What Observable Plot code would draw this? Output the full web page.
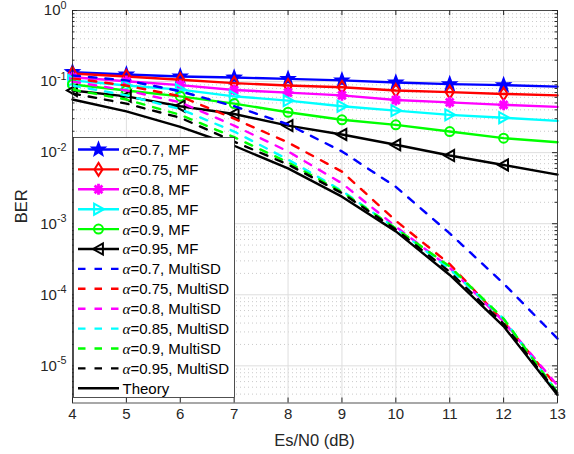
<!DOCTYPE html>
<html><head><meta charset="utf-8">
<script src="https://cdn.jsdelivr.net/npm/d3@7"></script>
<script src="https://cdn.jsdelivr.net/npm/@observablehq/plot@0.6"></script>
<style>body{margin:0;background:#fff} svg{font-family:"Liberation Sans",Arial,sans-serif}</style>
</head><body><div id="chart"></div>
<script>
// ---- data ----
const snr = [4, 5, 6, 7, 8, 9, 10, 11, 12, 13];
const mf070 = [0.136, 0.126, 0.118, 0.114, 0.109, 0.104, 0.097, 0.092, 0.089, 0.085];
const mf075 = [0.130, 0.118, 0.106, 0.095, 0.088, 0.083, 0.075, 0.071, 0.067, 0.064];
const mf080 = [0.115, 0.101, 0.089, 0.076, 0.070, 0.064, 0.055, 0.051, 0.047, 0.044];
const mf085 = [0.104, 0.088, 0.077, 0.062, 0.054, 0.045, 0.039, 0.034, 0.031, 0.028];
const mf090 = [0.091, 0.075, 0.062, 0.049, 0.037, 0.029, 0.0246, 0.0198, 0.016, 0.014];
const mf095 = [0.075, 0.062, 0.045, 0.035, 0.024, 0.018, 0.0129, 0.0091, 0.0067, 0.0049];
const sd070 = [0.122, 0.104, 0.073, 0.045, 0.025, 0.0104, 0.0033, 0.00073, 0.000144, 0.0000242];
const sd075 = [0.111, 0.088, 0.062, 0.030, 0.0139, 0.0054, 0.0011, 0.00027, 0.000042, 0.0000050];
const sd080 = [0.100, 0.075, 0.051, 0.024, 0.0104, 0.0037, 0.00091, 0.00024, 0.000042, 0.0000053];
const sd085 = [0.088, 0.064, 0.041, 0.0198, 0.0080, 0.0029, 0.00086, 0.00023, 0.000046, 0.0000042];
const sd090 = [0.077, 0.056, 0.034, 0.0165, 0.0073, 0.0028, 0.00086, 0.00025, 0.000046, 0.0000042];
const sd095 = [0.068, 0.049, 0.031, 0.0143, 0.0068, 0.0027, 0.00083, 0.00021, 0.000039, 0.0000041];
const theory = [0.056, 0.038, 0.023, 0.0125, 0.0060, 0.0024, 0.00078, 0.00019, 0.000036, 0.0000039];
const markerSnr = [4, 5, 6, 7, 8, 9, 10, 11, 12];
const xTicks = [4, 5, 6, 7, 8, 9, 10, 11, 12, 13];
const yTicks = [1e-5, 1e-4, 1e-3, 1e-2, 1e-1, 1];
const alphas = ["0.7", "0.75", "0.8", "0.85", "0.9", "0.95"];
const colors = ["#0000ff", "#ff0000", "#ff00ff", "#00ffff", "#00ff00", "#000000"];

// ---- custom marker symbols (r = nominal radius in px) ----
const rad = s => Math.sqrt(s / Math.PI);
const pentagram = {draw(c, s){const r = rad(s), ri = r*0.42; for(let k=0;k<10;k++){const a=-Math.PI/2+k*Math.PI/5, rr=k%2?ri:r; const x=rr*Math.cos(a), y=rr*Math.sin(a); k?c.lineTo(x,y):c.moveTo(x,y);} c.closePath();}};
const diamond = {draw(c, s){const r = rad(s); c.moveTo(0,-r); c.lineTo(r*0.62,0); c.lineTo(0,r); c.lineTo(-r*0.62,0); c.closePath();}};
const asterisk = {draw(c, s){const r = rad(s); for(let k=0;k<4;k++){const a=k*Math.PI/4; c.moveTo(r*Math.cos(a), r*Math.sin(a)); c.lineTo(-r*Math.cos(a), -r*Math.sin(a));}}};
const triRight = {draw(c, s){const r = rad(s); c.moveTo(r,0); c.lineTo(-r*0.8,-r); c.lineTo(-r*0.8,r); c.closePath();}};
const triLeft = {draw(c, s){const r = rad(s); c.moveTo(-r,0); c.lineTo(r*0.8,-r); c.lineTo(r*0.8,r); c.closePath();}};
const circle = {draw(c, s){const r = rad(s); c.moveTo(r,0); c.arc(0,0,r,0,2*Math.PI);}};

const mfVals = [mf070, mf075, mf080, mf085, mf090, mf095];
const sdVals = [sd070, sd075, sd080, sd085, sd090, sd095];
const mfSym = [
  {symbol: pentagram, r: 6.5, fill: "#0000ff", sw: 2},
  {symbol: diamond, r: 6.5, fill: "none", sw: 2},
  {symbol: asterisk, r: 5.5, fill: "none", sw: 2.8},
  {symbol: triRight, r: 5.5, fill: "none", sw: 2},
  {symbol: circle, r: 4.5, fill: "none", sw: 2},
  {symbol: triLeft, r: 5.5, fill: "none", sw: 2}
];
const rows = vals => snr.map((x, i) => ({x, y: vals[i]}));
const markerRows = vals => markerSnr.map(x => ({x, y: vals[snr.indexOf(x)]}));

const W = 574, H = 454, mL = 72, mR = 17, mT = 10, mB = 51.5;
const pW = W - mL - mR, pH = H - mT - mB;
const minorY = [];
for (let e = -6; e < 0; e++) for (let k = 2; k <= 9; k++) { const v = k * Math.pow(10, e); if (v > 3.05e-6 && v < 1) minorY.push(v); }

const dash = "7.5,9";
const LW = 2.4;
const marks = [
  Plot.ruleY(minorY, {stroke: "#c4c4c4", strokeDasharray: "1,3", strokeWidth: 0.9}),
  Plot.ruleY(yTicks, {stroke: "#dedede"}),
  Plot.ruleX(xTicks, {stroke: "#dedede"}),
  Plot.ruleX(xTicks, {stroke: "#262626", insetTop: pH - 5}),
  Plot.ruleX(xTicks, {stroke: "#262626", insetBottom: pH - 5}),
  Plot.ruleY(yTicks, {stroke: "#262626", insetRight: pW - 5}),
  Plot.ruleY(yTicks, {stroke: "#262626", insetLeft: pW - 5}),
  Plot.ruleY(minorY, {stroke: "#262626", insetRight: pW - 2.5}),
  Plot.ruleY(minorY, {stroke: "#262626", insetLeft: pW - 2.5})
];
mfVals.forEach((v, i) => {
  marks.push(Plot.line(rows(v), {x: "x", y: "y", stroke: colors[i], strokeWidth: LW}));
  marks.push(Plot.dot(markerRows(v), {x: "x", y: "y", stroke: colors[i], strokeWidth: mfSym[i].sw, symbol: mfSym[i].symbol, r: mfSym[i].r, fill: mfSym[i].fill}));
});
sdVals.forEach((v, i) => {
  marks.push(Plot.line(rows(v), {x: "x", y: "y", stroke: colors[i], strokeWidth: LW, strokeDasharray: dash}));
});
marks.push(Plot.line(rows(theory), {x: "x", y: "y", stroke: "#000000", strokeWidth: LW}));
marks.push(Plot.frame({stroke: "#262626", strokeWidth: 0.8}));
marks.push(Plot.axisX({ticks: xTicks, tickSize: 0, tickPadding: 5, tickFormat: d => String(d), fontSize: 15, label: null, fill: "#262626"}));
marks.push(Plot.axisY({ticks: yTicks, tickSize: 0, tickPadding: 6, tickFormat: d => "10^" + Math.round(Math.log10(d)), fontSize: 15, label: null, fill: "#262626"}));

const svg = Plot.plot({
  width: W, height: H,
  marginLeft: mL, marginRight: mR, marginTop: mT, marginBottom: mB,
  style: {fontFamily: "'Liberation Sans', Arial, sans-serif", background: "#fff"},
  x: {domain: [4, 13]},
  y: {type: "log", domain: [3e-6, 1]},
  marks
});
document.getElementById("chart").appendChild(svg);

// superscript exponents on the y tick labels
d3.select(svg).selectAll('g[aria-label="y-axis tick label"] text').each(function () {
  const m = this.textContent.match(/^10\^(.*)$/);
  if (!m) return;
  this.textContent = "";
  const t = d3.select(this);
  t.append("tspan").text("10");
  t.append("tspan").attr("dy", "-0.6em").attr("font-size", "0.72em").text(m[1]);
});

const root = d3.select(svg);
// axis titles
root.append("text").attr("x", mL + pW / 2).attr("y", 446).attr("text-anchor", "middle")
  .attr("font-size", 16.5).attr("fill", "#262626").text("Es/N0 (dB)");
root.append("text").attr("transform", `translate(27,${mT + pH / 2}) rotate(-90)`).attr("text-anchor", "middle")
  .attr("font-size", 16.5).attr("fill", "#262626").text("BER");

// legend
const entries = [];
alphas.forEach((a, i) => entries.push({a, kind: "MF", color: colors[i], sym: mfSym[i], dash: null}));
alphas.forEach((a, i) => entries.push({a, kind: "MultiSD", color: colors[i], sym: null, dash}));
entries.push({a: null, kind: "Theory", color: "#000000", sym: null, dash: null});
const lg = root.append("g").attr("text-anchor", "start");
lg.append("rect").attr("x", 73.5).attr("y", 137.5).attr("width", 161).attr("height", 260)
  .attr("fill", "#fff").attr("stroke", "#262626").attr("stroke-width", 0.8);
entries.forEach((e, i) => {
  const cy = 149.5 + i * 19.9;
  lg.append("line").attr("x1", 78).attr("x2", 119).attr("y1", cy).attr("y2", cy)
    .attr("stroke", e.color).attr("stroke-width", LW).attr("stroke-dasharray", e.dash);
  if (e.sym) {
    lg.append("path").attr("transform", `translate(98.5,${cy})`)
      .attr("d", d3.symbol(e.sym.symbol, e.sym.r * e.sym.r * Math.PI)())
      .attr("fill", e.sym.fill).attr("stroke", e.color).attr("stroke-width", e.sym.sw);
  }
  const t = lg.append("text").attr("x", 122.5).attr("y", cy).attr("dy", "0.36em")
    .attr("text-anchor", "start").attr("font-size", 15).attr("fill", "#000");
  if (e.a) {
    t.append("tspan").attr("font-family", "'Liberation Serif', serif").attr("font-style", "italic").text("α");
    t.append("tspan").text("=" + e.a + ", " + e.kind);
  } else t.text(e.kind);
});
</script></body></html>
